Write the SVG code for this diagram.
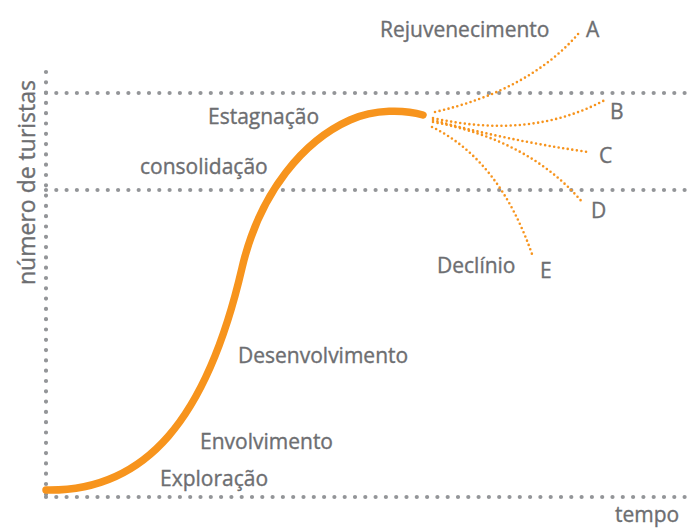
<svg xmlns="http://www.w3.org/2000/svg" width="687" height="529" viewBox="0 0 687 529">
<style>
.grid{fill:none;stroke:#939598;stroke-width:4.2;stroke-linecap:round;stroke-dasharray:0 10.3}
.branch{fill:none;stroke:#f7941d;stroke-width:2.6;stroke-linecap:round;stroke-dasharray:0 4.6}
.curve{fill:none;stroke:#f7941d;stroke-width:7.5;stroke-linecap:round}
text{font-family:"Open Sans","Noto Sans","Liberation Sans",sans-serif;font-size:21px;fill:#6d6e71;stroke:#6d6e71;stroke-width:0.35}
</style>
<rect width="687" height="529" fill="#ffffff"/>
<g id="axes">
<line class="grid" x1="46" y1="72" x2="46" y2="497"/>
<line class="grid" x1="46" y1="497" x2="687" y2="497"/>
<line class="grid" x1="46" y1="93" x2="687" y2="93"/>
<line class="grid" x1="46" y1="190" x2="687" y2="190"/>
</g>
<g id="connectors">
<path id="branch-A" class="branch" d="M435,112 Q530,90 579,33"/>
<path id="branch-B" class="branch" d="M433,118 Q530,140 605,100"/>
<path id="branch-C" class="branch" d="M433,120 Q505,140 588,152"/>
<path id="branch-D" class="branch" d="M433,122 Q530,140 583,203"/>
<path id="branch-E" class="branch" d="M432,127 Q500,160 533,257"/>
</g>
<g id="curve">
<path class="curve" d="M46,490 C146,492 207,418.5 242,268 C260,190.6 305,140 350,120 C375,108.75 405,109.6 423,115"/>
</g>
<g id="labels">
<text x="380" y="37">Rejuvenecimento</text>
<text x="586" y="37">A</text>
<text x="610" y="119">B</text>
<text x="599" y="163">C</text>
<text x="591" y="218">D</text>
<text x="540" y="278">E</text>
<text x="208" y="124">Estagnação</text>
<text x="140" y="174">consolidação</text>
<text x="437" y="273">Declínio</text>
<text x="238" y="363">Desenvolvimento</text>
<text x="200" y="449">Envolvimento</text>
<text x="160" y="486">Exploração</text>
<text x="615" y="522">tempo</text>
<text transform="translate(35,285) rotate(-90)" style="font-size:23px">número de turistas</text>
</g>
</svg>
